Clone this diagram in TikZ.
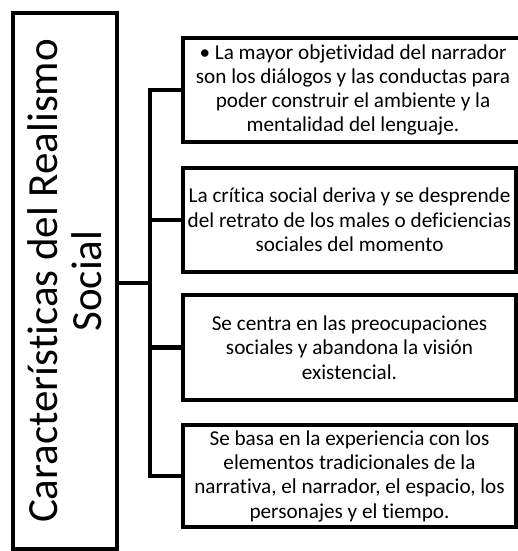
\documentclass[tikz,border=0pt]{standalone}
\usepackage{fontspec}
\setmainfont{Carlito}[Ligatures=NoCommon]
\usepackage{tikz}

\tikzset{
  frame/.style={draw, line width=4.5pt, inner sep=0pt, align=center},
  itembox/.style={frame, minimum height=104pt,
    font=\fontsize{21.2}{24.3}\selectfont},
  link/.style={line width=4.5pt}
}

\begin{document}
\begin{tikzpicture}[x=1pt, y=-1pt]
    \useasboundingbox (0,0) rectangle (518,551);
    \node[frame, minimum width=536pt, minimum height=104pt,
      font=\fontsize{43}{44}\selectfont, rotate=90] (title) at (65,281)
      {Características del Realismo\\Social};
    \node[itembox, minimum width=340pt] (item1) at (353,90)
      {• La mayor objetividad del narrador\\son los diálogos y las conductas para\\poder construir el ambiente y la\\mentalidad del lenguaje.};
    \node[itembox, minimum width=333pt] (item2) at (349.5,220)
      {La crítica social deriva y se desprende\\del retrato de los males o deficiencias\\sociales del momento};
    \node[itembox, minimum width=333pt, minimum height=105pt] (item3) at (349.5,347.5)
      {Se centra en las preocupaciones\\sociales y abandona la visión\\existencial.};
    \node[itembox, minimum width=333pt, minimum height=102pt] (item4) at (349.5,476)
      {Se basa en la experiencia con los\\elementos tradicionales de la\\narrativa, el narrador, el espacio, los\\personajes y el tiempo.};
    \coordinate (trunk) at (150,283);
    \draw[link] (title.south |- trunk) -- (trunk);
    \draw[link] (item1.west) -| (trunk) |- (item4.west);
    \foreach \n in {2,3}
      \draw[link] (item\n.west) -- (item\n.west -| trunk);
\end{tikzpicture}
\end{document}
